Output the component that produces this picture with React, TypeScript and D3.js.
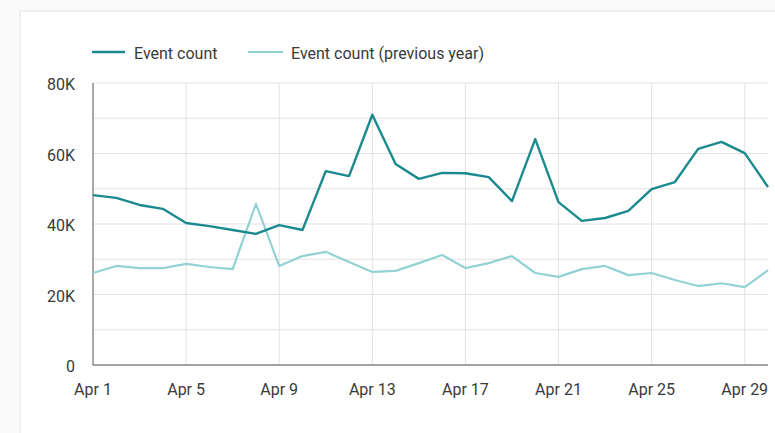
import React from "react";
import * as d3 from "d3";

const days: number[] = d3.range(1, 31);
const eventCount: number[] = [
  48.2, 47.4, 45.4, 44.3, 40.3, 39.4, 38.3, 37.2, 39.7, 38.3,
  55.0, 53.6, 71.0, 57.0, 52.8, 54.5, 54.4, 53.3, 46.5, 64.1,
  46.2, 40.9, 41.7, 43.7, 49.9, 51.9, 61.3, 63.3, 60.1, 50.5,
].map((v) => v * 1000);
const eventCountPrev: number[] = [
  26.1, 28.1, 27.5, 27.5, 28.7, 27.8, 27.2, 45.7, 28.1, 30.9,
  32.1, 29.2, 26.4, 26.7, 28.9, 31.2, 27.5, 28.9, 30.9, 26.1,
  25.0, 27.2, 28.1, 25.5, 26.1, 24.1, 22.4, 23.2, 22.1, 26.9,
].map((v) => v * 1000);
const yTicks: number[] = [0, 20000, 40000, 60000, 80000];
const yGrid: number[] = d3.range(0, 80001, 10000);
const xTickDays: number[] = [1, 5, 9, 13, 17, 21, 25, 29];
const seriesNames: string[] = ["Event count", "Event count (previous year)"];

const W = 775;
const H = 433;
const left = 93;
const right = 768;
const top = 83;
const bottom = 365;
const DARK = "#1b8a8e";
const LIGHT = "#93d2d3";

export default function App() {
  const x = d3.scaleLinear().domain([1, 30]).range([left, right]);
  const y = d3.scaleLinear().domain([0, 80000]).range([bottom, top]);
  const line = d3
    .line<number>()
    .x((_, i) => x(days[i]))
    .y((d) => y(d));
  const fmt = (v: number) => (v === 0 ? "0" : `${v / 1000}K`);
  const font = "Roboto, 'Noto Sans', sans-serif";
  const fs = 16;
  const tc = "#3a3a3a";

  return (
    <svg
      width={W}
      height={H}
      style={{ position: "absolute", left: 0, top: 0, background: "#fff" }}
    >
      <rect x={0} y={0} width={W} height={H} fill="#fafafa" />
      <rect x={20} y={11} width={W} height={H} fill="#fff" stroke="#ececec" strokeWidth={1.5} />
      {/* grid */}
      {yGrid.map((v) => (
        <line key={"gy" + v} x1={left} x2={right} y1={y(v)} y2={y(v)} stroke="#e2e2e2" strokeWidth={1} />
      ))}
      {xTickDays.slice(1).map((d) => (
        <line key={"gx" + d} x1={x(d)} x2={x(d)} y1={top} y2={bottom} stroke="#e2e2e2" strokeWidth={1} />
      ))}
      {/* axes */}
      <line x1={left} x2={left} y1={top} y2={bottom} stroke="#555" strokeWidth={1} />
      <line x1={left} x2={right} y1={bottom} y2={bottom} stroke="#555" strokeWidth={1} />
      {/* lines */}
      <path d={line(eventCountPrev) || ""} fill="none" stroke={LIGHT} strokeWidth={2.2} strokeLinejoin="round" />
      <path d={line(eventCount) || ""} fill="none" stroke={DARK} strokeWidth={2.4} strokeLinejoin="round" />
      {/* y labels */}
      {yTicks.map((v) => (
        <text key={"yl" + v} x={75} y={y(v) + 7} textAnchor="end" fontFamily={font} fontSize={fs} fill={tc}>
          {fmt(v)}
        </text>
      ))}
      {/* x labels */}
      {xTickDays.map((d) => (
        <text key={"xl" + d} x={x(d)} y={395} textAnchor="middle" fontFamily={font} fontSize={fs} fill={tc}>
          {`Apr ${d}`}
        </text>
      ))}
      {/* legend */}
      <line x1={92} x2={125} y1={52} y2={52} stroke={DARK} strokeWidth={2.4} />
      <text x={134} y={59} fontFamily={font} fontSize={fs} fill={tc}>
        {seriesNames[0]}
      </text>
      <line x1={248} x2={283} y1={52} y2={52} stroke={LIGHT} strokeWidth={2.2} />
      <text x={291} y={59} fontFamily={font} fontSize={fs} fill={tc}>
        {seriesNames[1]}
      </text>
    </svg>
  );
}
